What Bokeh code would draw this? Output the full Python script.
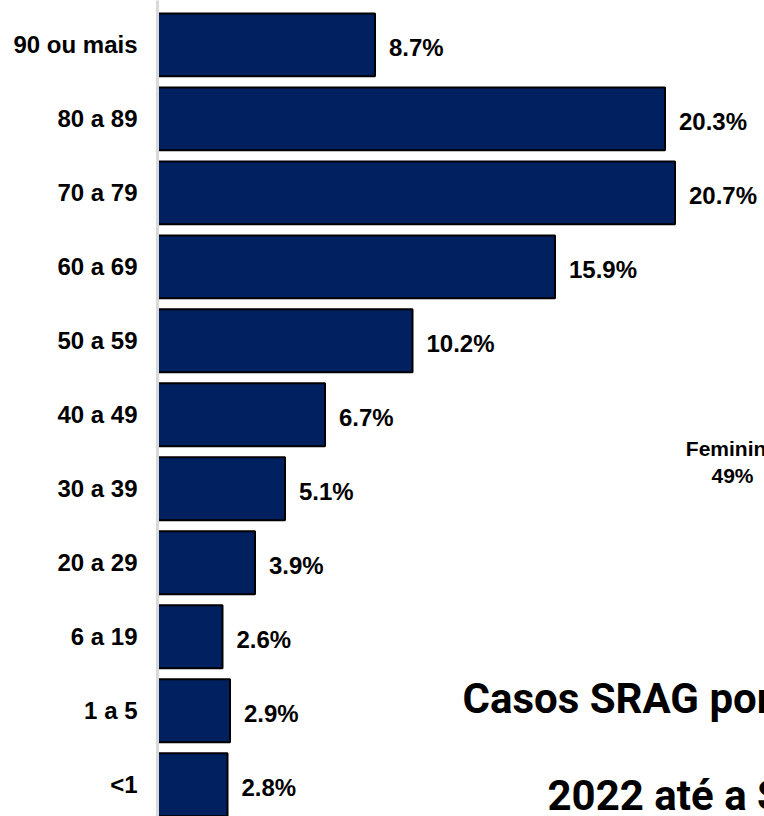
from bokeh.plotting import figure
from bokeh.models import ColumnDataSource, Range1d, LinearAxis, FixedTicker, Label
from bokeh.core.properties import value
from bokeh.embed import file_html
from bokeh.resources import INLINE

# Data (bottom to top)
categories = ["<1", "1 a 5", "6 a 19", "20 a 29", "30 a 39", "40 a 49",
              "50 a 59", "60 a 69", "70 a 79", "80 a 89", "90 ou mais"]
percent = [2.8, 2.9, 2.6, 3.9, 5.1, 6.7, 10.2, 15.9, 20.7, 20.3, 8.7]
labels = [f"{v:.1f}%" for v in percent]
positions = list(range(len(categories)))

female_label = "Feminino"
female_share = "49%"
title_line1 = "Casos SRAG por"
title_line2 = "2022 até a S"

src = ColumnDataSource(dict(y=positions, right=percent, lab=labels))

p = figure(width=764, height=816, output_backend="svg", toolbar_location=None,
           x_range=Range1d(0, 24.28), y_range=Range1d(-0.43, 10.6),
           x_axis_location=None, y_axis_location=None,
           min_border_left=157, min_border_right=0, min_border_top=0, min_border_bottom=0)
p.outline_line_color = None
p.xgrid.visible = False
p.ygrid.visible = False
p.background_fill_color = "white"
p.border_fill_color = "white"

yaxis = LinearAxis(ticker=FixedTicker(ticks=positions),
                   major_label_overrides={i: c for i, c in zip(positions, categories)})
yaxis.axis_line_color = "#d9d9d9"
yaxis.axis_line_width = 3
yaxis.major_tick_line_color = None
yaxis.minor_tick_line_color = None
yaxis.major_tick_out = 0
yaxis.major_tick_in = 0
yaxis.major_label_standoff = 20
yaxis.major_label_text_font = "Liberation Sans"
yaxis.major_label_text_font_style = "bold"
yaxis.major_label_text_font_size = "24px"
yaxis.major_label_text_color = "black"
p.add_layout(yaxis, "left")

p.hbar(y="y", left=0, right="right", height=0.85, source=src,
       fill_color="#002060", line_color="black", line_width=2)

p.text(x="right", y="y", text="lab", source=src, x_offset=14, y_offset=3,
       text_align="left", text_baseline="middle",
       text_font=value("Liberation Sans"), text_font_style="bold",
       text_font_size="24px", text_color="black")

for txt, yy in [(female_label, 4.545), (female_share, 4.18)]:
    p.add_layout(Label(x=23.0, y=yy, text=txt, text_align="center",
                       text_baseline="alphabetic", text_font="Liberation Sans",
                       text_font_style="bold", text_font_size="21px", text_color="black"))

p.add_layout(Label(x=12.2, y=1.168, text=title_line1, text_align="left",
                   text_baseline="alphabetic", text_font="Roboto",
                   text_font_style="bold", text_font_size="42px", text_color="black"))
p.add_layout(Label(x=15.6, y=-0.143, text=title_line2, text_align="left",
                   text_baseline="alphabetic", text_font="Roboto",
                   text_font_style="bold", text_font_size="42px", text_color="black"))

open("out.html", "w").write(file_html(p, INLINE))
